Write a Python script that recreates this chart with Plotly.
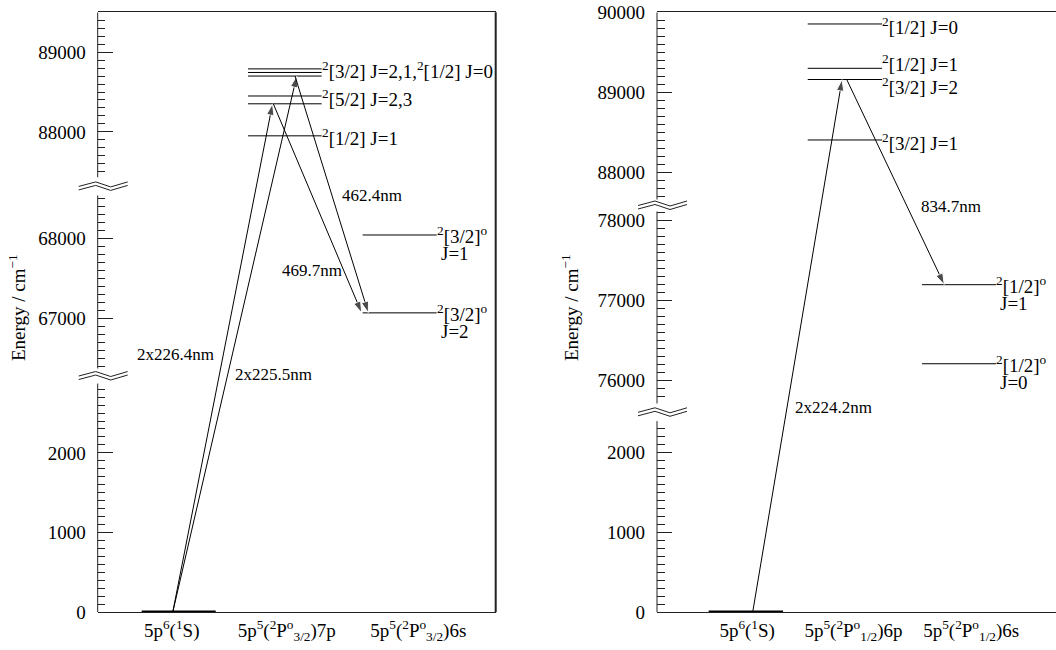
import math
import plotly.graph_objects as go

# ----------------------------- data -----------------------------
ground_energy = [0]

left_7p_energies = [88790, 88745, 88700, 88450, 88352, 87950]
left_6s_energies = [68045, 67068]
right_6p_energies = [89854, 89300, 89160, 88404]
right_6s_energies = [77200, 76212]

left_arrow_from = [0, 0, 88352, 88700]
left_arrow_to = [88352, 88700, 67068, 67068]
left_arrow_labels = ["2x226.4nm", "2x225.5nm", "469.7nm", "462.4nm"]

right_arrow_from = [0, 89160]
right_arrow_to = [89160, 77200]
right_arrow_labels = ["2x224.2nm", "834.7nm"]

left_categories = [
    "5p<sup>6</sup>(<sup>1</sup>S)",
    "5p<sup>5</sup>(<sup>2</sup>P<sup>o</sup><sub>3/2</sub>)7p",
    "5p<sup>5</sup>(<sup>2</sup>P<sup>o</sup><sub>3/2</sub>)6s",
]
right_categories = [
    "5p<sup>6</sup>(<sup>1</sup>S)",
    "5p<sup>5</sup>(<sup>2</sup>P<sup>o</sup><sub>1/2</sub>)6p",
    "5p<sup>5</sup>(<sup>2</sup>P<sup>o</sup><sub>1/2</sub>)6s",
]

left_mid_label_texts = [
    "<sup>2</sup>[3/2] J=2,1,<sup>2</sup>[1/2] J=0",
    "<sup>2</sup>[5/2] J=2,3",
    "<sup>2</sup>[1/2] J=1",
]
left_mid_label_energies = [88745, 88450, 87950]
left_6s_label_texts = ["<sup>2</sup>[3/2]<sup>o</sup>", "<sup>2</sup>[3/2]<sup>o</sup>"]
left_6s_label_j = ["J=1", "J=2"]

right_mid_label_texts = [
    "<sup>2</sup>[1/2] J=0",
    "<sup>2</sup>[1/2] J=1",
    "<sup>2</sup>[3/2] J=2",
    "<sup>2</sup>[3/2] J=1",
]
right_mid_label_energies = [89854, 89300, 89160, 88404]
right_6s_label_texts = ["<sup>2</sup>[1/2]<sup>o</sup>", "<sup>2</sup>[1/2]<sup>o</sup>"]
right_6s_label_j = ["J=1", "J=0"]

left_major_ticks = [0, 1000, 2000, 67000, 68000, 88000, 89000]
right_major_ticks = [0, 1000, 2000, 76000, 77000, 78000, 88000, 89000, 90000]
y_title = "Energy / cm<sup>\u22121</sup>"

# ----------------------------- layout constants -----------------------------
FONT = "'Liberation Serif', 'Times New Roman', Times, serif"
W, H = 1056, 650
Y_DOM = [(H - 612.3) / H, (H - 12.3) / H]
LINE_COL = "#222"

panels = [
    dict(
        xa="x", ya="y", xkey="xaxis", ykey="yaxis",
        xdom=[97.7 / W, 495.7 / W],
        segments=[(0, 2870), (66370, 68540), (87430, 89500)], gaps=[189, 229],
        majors=left_major_ticks,
        ground=(0.442, 1.186), mid=(1.511, 2.251), side=(2.663, 3.407),
        mid_E=left_7p_energies, side_E=left_6s_energies,
        cats=left_categories, cat_x=[0.744, 1.90, 3.222],
        arr_from=left_arrow_from, arr_to=left_arrow_to, arr_labels=left_arrow_labels,
        arr_x=[(0.754, 1.757), (0.754, 2.0), (1.765, 2.653), (1.983, 2.72)],
        arr_label_px=[(175, 355), (273.7, 374.3), (312.2, 270.7), (371.7, 195)],
        mid_texts=left_mid_label_texts, mid_text_E=left_mid_label_energies,
        mid_shift=[2, -2, -1.5],
        side_texts=left_6s_label_texts, side_j=left_6s_label_j,
        title_px=(17, 308), right_border=True,
    ),
    dict(
        xa="x2", ya="y2", xkey="xaxis2", ykey="yaxis2",
        xdom=[657 / W, 1.0],
        segments=[(0, 2390), (75715, 78115), (87660, 90000)], gaps=[220, 150],
        majors=right_major_ticks,
        ground=(0.518, 1.264), mid=(1.511, 2.256), side=(2.657, 3.399),
        mid_E=right_6p_energies, side_E=right_6s_energies,
        cats=right_categories, cat_x=[0.904, 1.97, 3.15],
        arr_from=right_arrow_from, arr_to=right_arrow_to, arr_labels=right_arrow_labels,
        arr_x=[(0.959, 1.855), (1.902, 2.880)],
        arr_label_px=[(833.5, 407.3), (951, 206.7)],
        mid_texts=right_mid_label_texts, mid_text_E=right_mid_label_energies,
        mid_shift=[-2, 5.6, -6.5, -1.7],
        side_texts=right_6s_label_texts, side_j=right_6s_label_j,
        title_px=(570, 308), right_border=False,
    ),
]


def build_map(segments, gaps):
    offs, starts, ends = [], [], []
    pos = 0.0
    for i, (lo, hi) in enumerate(segments):
        if i > 0:
            pos += gaps[i - 1]
        starts.append(pos)
        offs.append(pos - lo)
        pos += hi - lo
        ends.append(pos)

    def f(e):
        for (lo, hi), o in zip(segments, offs):
            if lo - 1e-6 <= e <= hi + 1e-6:
                return e + o
        raise ValueError(e)

    return f, pos, starts, ends


fig = go.Figure()
shapes, annotations = [], []
layout_axes = {}

for p in panels:
    f, total, starts, ends = build_map(p["segments"], p["gaps"])
    xa, ya = p["xa"], p["ya"]

    # energy levels
    for (x0, x1), energies, width in [
        (p["ground"], ground_energy, 3.5),
        (p["mid"], p["mid_E"], 1),
        (p["side"], p["side_E"], 1),
    ]:
        xs, ys = [], []
        for e in energies:
            xs += [x0, x1, None]
            ys += [f(e), f(e), None]
        fig.add_trace(go.Scatter(
            x=xs, y=ys, mode="lines", xaxis=xa, yaxis=ya,
            line=dict(color="black", width=width), showlegend=False, hoverinfo="skip",
        ))

    # transitions (arrows)
    for (x0, x1), e0, e1 in zip(p["arr_x"], p["arr_from"], p["arr_to"]):
        fig.add_trace(go.Scatter(
            x=[x0, x1], y=[f(e0), f(e1)], mode="lines+markers", xaxis=xa, yaxis=ya,
            line=dict(color="black", width=1),
            marker=dict(symbol="arrow", size=[0, 12], angleref="previous", color="black"),
            showlegend=False, hoverinfo="skip",
        ))

    # transition labels
    for (px, py), txt in zip(p["arr_label_px"], p["arr_labels"]):
        annotations.append(dict(
            text=txt, xref="paper", yref="paper", x=px / W, y=1 - py / H,
            xanchor="center", yanchor="middle", showarrow=False,
            font=dict(family=FONT, size=17, color="black"),
        ))

    # level labels
    for txt, e, sh in zip(p["mid_texts"], p["mid_text_E"], p["mid_shift"]):
        annotations.append(dict(
            text=txt, xref=xa, yref=ya, x=p["mid"][1], y=f(e),
            xanchor="left", yanchor="middle", showarrow=False, xshift=-2, yshift=sh,
            font=dict(family=FONT, size=19, color="black"),
        ))
    for txt, j, e in zip(p["side_texts"], p["side_j"], p["side_E"]):
        annotations.append(dict(
            text=txt, xref=xa, yref=ya, x=p["side"][1], y=f(e),
            xanchor="left", yanchor="middle", showarrow=False, xshift=-2,
            font=dict(family=FONT, size=19, color="black"),
        ))
        annotations.append(dict(
            text=j, xref=xa, yref=ya, x=p["side"][1], y=f(e),
            xanchor="left", yanchor="middle", showarrow=False, xshift=2, yshift=-19,
            font=dict(family=FONT, size=19, color="black"),
        ))

    # y-axis title
    annotations.append(dict(
        text=y_title, xref="paper", yref="paper",
        x=p["title_px"][0] / W, y=1 - p["title_px"][1] / H,
        xanchor="center", yanchor="middle", textangle=-90, showarrow=False,
        font=dict(family=FONT, size=19, color="black"),
    ))

    # broken left spine
    for s, e in zip(starts, ends):
        shapes.append(dict(
            type="line", xref=f"{xa} domain", yref=ya, x0=0, x1=0, y0=s, y1=e,
            line=dict(color=LINE_COL, width=1),
        ))
    # axis-break symbols
    bx = [-19, -2, 13, 30]
    up = [0, 4.5, -0.5, 4.5]
    lo = [-3.5, 1, -4, 1]
    for i in range(len(starts) - 1):
        yc = (ends[i] + starts[i + 1]) / 2
        for ys in (up, lo):
            path = "M" + " L".join(f"{x},{y}" for x, y in zip(bx, ys))
            shapes.append(dict(
                type="path", xref=f"{xa} domain", yref=ya,
                xsizemode="pixel", ysizemode="pixel", xanchor=0, yanchor=yc,
                path=path, line=dict(color=LINE_COL, width=1),
            ))
    if p["right_border"]:
        shapes.append(dict(
            type="line", xref=f"{xa} domain", yref=f"{ya} domain",
            x0=1, x1=1, y0=0, y1=1, line=dict(color=LINE_COL, width=2),
        ))

    majors = p["majors"]
    minors = []
    for (lo_e, hi_e) in p["segments"]:
        v = int(math.ceil(lo_e / 100.0) * 100)
        while v <= hi_e:
            if v not in majors:
                minors.append(f(v))
            v += 100

    layout_axes[p["xkey"]] = dict(
        domain=p["xdom"], range=[0, 4], anchor=ya,
        showline=True, linecolor=LINE_COL, linewidth=1, mirror=True,
        showgrid=False, zeroline=False, ticks="", automargin=False,
        tickmode="array", tickvals=p["cat_x"], ticktext=p["cats"],
        tickfont=dict(family=FONT, size=19, color="black"),
        ticklabelstandoff=1, fixedrange=True,
    )
    layout_axes[p["ykey"]] = dict(
        domain=Y_DOM, range=[0, total], anchor=xa, automargin=False,
        showline=False, showgrid=False, zeroline=False,
        tickmode="array", tickvals=[f(v) for v in majors], ticktext=[str(v) for v in majors],
        ticks="inside", ticklen=15, tickwidth=1, tickcolor=LINE_COL,
        minor=dict(tickmode="array", tickvals=minors, ticks="inside",
                   ticklen=7.5, tickwidth=1, tickcolor=LINE_COL, showgrid=False),
        tickfont=dict(family=FONT, size=19, color="black"),
        ticklabelstandoff=11, fixedrange=True,
    )

fig.update_layout(
    width=W, height=H, autosize=False,
    margin=dict(l=0, r=0, t=0, b=0, pad=0, autoexpand=False),
    paper_bgcolor="white", plot_bgcolor="white",
    font=dict(family=FONT, color="black"),
    showlegend=False, hovermode=False,
    shapes=shapes, annotations=annotations,
    **layout_axes,
)

fig.write_html("out.html")
